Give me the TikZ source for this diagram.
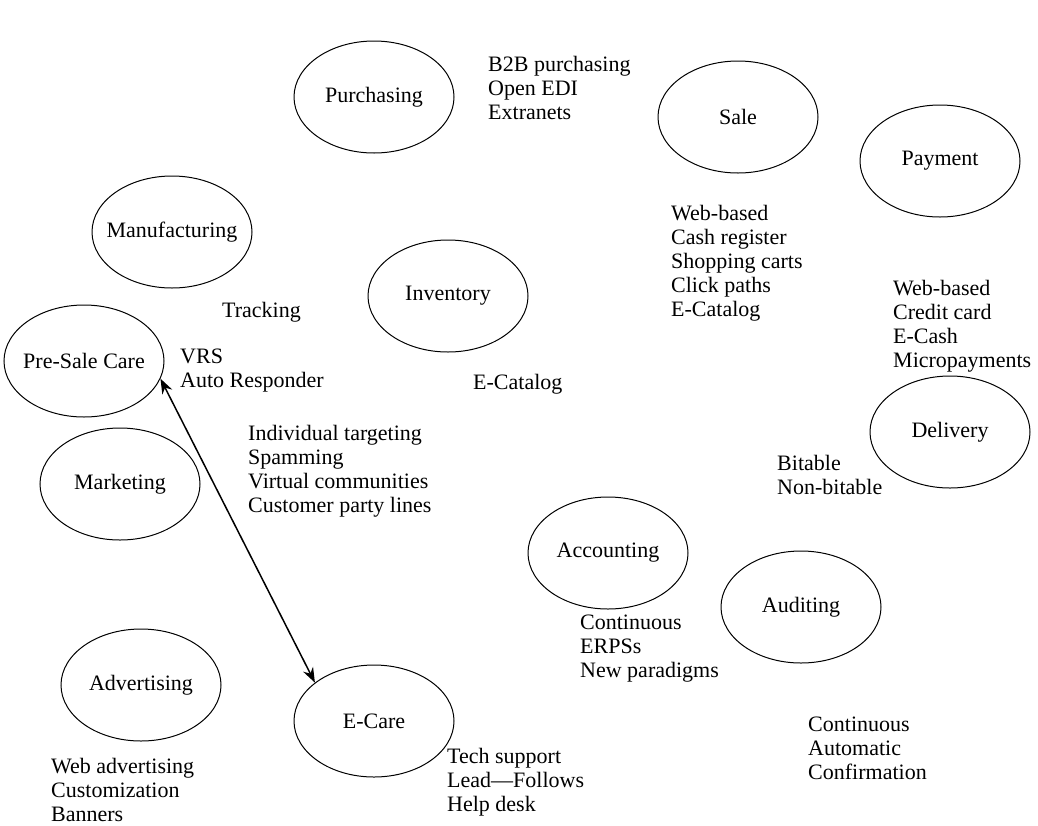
\documentclass[tikz,border=0pt]{standalone}
\usepackage{fontspec}
\setmainfont{Liberation Serif}
\usetikzlibrary{shapes.geometric,arrows.meta}

\begin{document}
\begin{tikzpicture}[x=1pt, y=-1pt,
		stage/.style={ellipse, draw, line width=1pt, inner ysep=0pt, inner xsep=-30pt,
			minimum width=160pt, minimum height=112pt},
		items/.style={anchor=north west, align=left, inner sep=0pt},
		every node/.style={font=\fontsize{22}{24}\selectfont}]
			\useasboundingbox (0, 0) rectangle (1038, 825);

			% the stages
			\node[stage]	(purchasing)	at (374, 97)	{Purchasing};
			\node[stage]	(sale)			at (738, 117)	{Sale};
			\node[stage]	(payment)		at (940, 161)	{Payment};
			\node[stage]	(manufacturing)	at (172, 232)	{Manufacturing};
			\node[stage]	(inventory)		at (448, 296)	{Inventory};
			\node[stage]	(presale)		at (84, 361)	{Pre-Sale Care};
			\node[stage]	(delivery)		at (950, 432)	{Delivery};
			\node[stage]	(marketing)		at (120, 484)	{Marketing};
			\node[stage]	(accounting)	at (608, 553)	{Accounting};
			\node[stage]	(auditing)		at (801, 607)	{Auditing};
			\node[stage]	(advertising)	at (141, 685)	{Advertising};
			\node[stage]	(ecare)			at (374, 721)	{E-Care};

			% what belongs to each stage
			\node[items]	(purchasingitems)	at (488, 56)	{B2B purchasing\\Open EDI\\Extranets};
			\node[items]	(saleitems)			at (671, 205)	{Web-based\\Cash register\\Shopping carts\\Click paths\\E-Catalog};
			\node[items]	(paymentitems)		at (893, 280)	{Web-based\\Credit card\\E-Cash\\Micropayments};
			\node[items]	(tracking)			at (222, 302)	{Tracking};
			\node[items]	(catalog)			at (473, 374)	{E-Catalog};
			\node[items]	(presaleitems)		at (180, 349)	{VRS\\Auto Responder};
			\node[items]	(marketingitems)	at (248, 425)	{Individual targeting\\Spamming\\Virtual communities\\Customer party lines};
			\node[items]	(deliveryitems)		at (777, 455)	{Bitable\\Non-bitable};
			\node[items]	(accountingitems)	at (580, 615)	{Continuous\\ERPSs\\New paradigms};
			\node[items]	(auditingitems)		at (808, 717)	{Continuous\\Automatic\\Confirmation};
			\node[items]	(advertisingitems)	at (51, 758)	{Web advertising\\Customization\\Banners};
			\node[items]	(ecareitems)		at (447, 748)	{Tech support\\Lead---Follows\\Help desk};

			\draw[{Stealth[length=15pt, width=11pt]}-{Stealth[length=15pt, width=11pt]}, line width=1.5pt]
				(presale.-13) -- (ecare.147);
		\end{tikzpicture}
\end{document}
